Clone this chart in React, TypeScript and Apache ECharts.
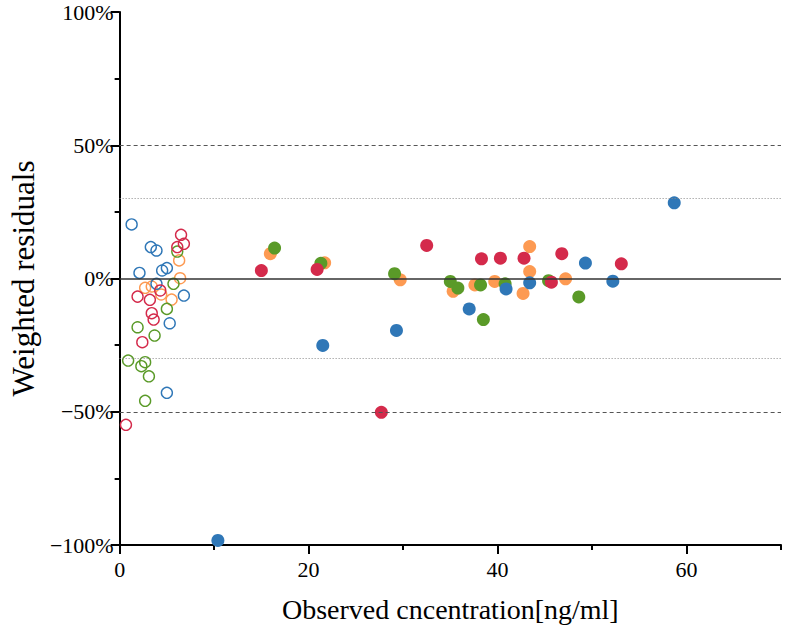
import React, { useEffect, useRef } from "react";
import * as echarts from "echarts";

// Observed concentration [ng/ml], weighted residual [%]
const blueFilled: number[][] = [
  [10.4, -98.3], [21.5, -25.1], [29.3, -19.5], [37.0, -11.4], [40.9, -3.9],
  [43.4, -1.6], [49.3, 5.8], [52.2, -1.0], [58.7, 28.4],
];
const orangeFilled: number[][] = [
  [15.95, 9.3], [21.7, 5.9], [29.7, -0.5], [35.3, -4.8], [37.6, -2.4],
  [39.7, -1.1], [42.7, -5.6], [43.4, 12.0], [43.4, 2.6], [47.2, -0.1],
];
const greenFilled: number[][] = [
  [16.4, 11.4], [21.3, 5.7], [29.1, 1.8], [35.0, -1.1], [35.8, -3.6],
  [38.2, -2.4], [38.5, -15.4], [40.8, -2.0], [45.4, -0.8], [48.6, -6.9],
];
const redFilled: number[][] = [
  [15.0, 3.0], [20.9, 3.4], [27.7, -50.2], [32.5, 12.4], [38.3, 7.4],
  [40.3, 7.6], [42.8, 7.6], [45.7, -1.4], [46.8, 9.3], [53.1, 5.5],
];
const blueHollow: number[][] = [
  [1.27, 20.3], [3.3, 11.8], [3.9, 10.5], [5.0, 3.9], [4.5, 3.0],
  [2.1, 2.1], [3.9, -2.0], [6.8, -6.4], [5.3, -16.8], [5.0, -42.9],
];
const orangeHollow: number[][] = [
  [6.3, 6.8], [6.4, 0.1], [2.7, -3.5], [3.4, -3.0], [5.5, -7.9], [4.4, -6.0],
];
const greenHollow: number[][] = [
  [6.1, 10.1], [5.7, -2.0], [5.0, -11.4], [1.9, -18.3], [3.7, -21.4],
  [0.9, -30.8], [2.7, -31.4], [2.3, -32.9], [3.1, -36.7], [2.7, -45.9],
];
const redHollow: number[][] = [
  [6.5, 16.4], [6.8, 13.0], [6.1, 11.8], [4.3, -4.5], [1.9, -6.8],
  [3.2, -8.0], [3.4, -13.0], [3.6, -15.4], [2.4, -23.9], [0.67, -54.9],
];

const xMajorTicks = [0, 20, 40, 60];
const xMinorTicks = [10, 30, 50, 70];
const dashedLevels = [50, -50];
const dottedLevels = [30, -30];

const BLUE = "#2f77b7";
const ORANGE = "#fd9a52";
const GREEN = "#5a9a28";
const RED = "#d42a4b";
const FONT = "'Liberation Serif', 'Times New Roman', serif";

export default function App() {
  const ref = useRef<HTMLDivElement>(null);
  useEffect(() => {
    if (!ref.current) return;
    const chart = echarts.init(ref.current, undefined, { renderer: "svg" });
    const filled = (name: string, data: number[][], color: string) => ({
      name,
      type: "scatter",
      data,
      symbol: "circle",
      symbolSize: 13,
      itemStyle: { color, opacity: 1 },
      silent: true,
    });
    const hollow = (name: string, data: number[][], color: string) => ({
      name,
      type: "scatter",
      data,
      symbol: "circle",
      symbolSize: 11,
      itemStyle: { color: "rgba(0,0,0,0)", borderColor: color, borderWidth: 1.4, opacity: 1 },
      silent: true,
    });
    const refLines = [
      ...dashedLevels.map((v) => ({ yAxis: v, lineStyle: { color: "#555", width: 1, type: [4, 3] } })),
      ...dottedLevels.map((v) => ({ yAxis: v, lineStyle: { color: "#888", width: 1, type: [1, 2] } })),
      { yAxis: 0, lineStyle: { color: "#333", width: 1.5, type: "solid" } },
    ];
    chart.setOption({
      animation: false,
      backgroundColor: "#fff",
      grid: { left: 118, right: 4, top: 12, bottom: 88 },
      xAxis: [
        {
          type: "value",
          min: 0,
          max: 70,
          interval: 10,
          name: "Observed cncentration[ng/ml]",
          nameLocation: "middle",
          nameGap: 50,
          nameTextStyle: { fontFamily: FONT, fontSize: 28, color: "#000" },
          axisLine: { show: true, onZero: false, lineStyle: { color: "#000", width: 2 } },
          axisTick: { show: true, customValues: xMajorTicks, length: 9, lineStyle: { color: "#000", width: 2 } },
          axisLabel: { customValues: xMajorTicks, fontFamily: FONT, fontSize: 22, color: "#000", margin: 13 },
          splitLine: { show: false },
        },
        {
          type: "value",
          min: 0,
          max: 70,
          interval: 10,
          position: "bottom",
          axisLine: { show: false, onZero: false },
          axisTick: { show: true, customValues: xMinorTicks, length: 5, lineStyle: { color: "#000", width: 2 } },
          axisLabel: { show: false },
          splitLine: { show: false },
        },
      ],
      yAxis: {
        type: "value",
        min: -100,
        max: 100,
        interval: 50,
        name: "Weighted residuals",
        nameLocation: "middle",
        nameGap: 70,
        nameTextStyle: { fontFamily: FONT, fontSize: 31, color: "#000" },
        axisLine: { show: true, onZero: false, lineStyle: { color: "#000", width: 2 } },
        axisTick: { show: true, length: 9, lineStyle: { color: "#000", width: 2 } },
        minorTick: { show: true, splitNumber: 2, length: 5, lineStyle: { color: "#000", width: 2 } },
        axisLabel: {
          fontFamily: FONT,
          fontSize: 22,
          color: "#000",
          margin: 6,
          formatter: (v: number) => (v < 0 ? "\u2212" + Math.abs(v) + "%" : v + "%"),
        },
        splitLine: { show: false },
        minorSplitLine: { show: false },
      },
      series: [
        {
          type: "line",
          data: [],
          silent: true,
          markLine: { silent: true, symbol: ["none", "none"], label: { show: false }, data: refLines },
        },
        hollow("orangeHollow", orangeHollow, ORANGE),
        hollow("greenHollow", greenHollow, GREEN),
        hollow("blueHollow", blueHollow, BLUE),
        hollow("redHollow", redHollow, RED),
        filled("orange", orangeFilled, ORANGE),
        filled("green", greenFilled, GREEN),
        filled("blue", blueFilled, BLUE),
        filled("red", redFilled, RED),
      ],
    });
    return () => chart.dispose();
  }, []);
  return <div ref={ref} style={{ width: 785, height: 633, position: "absolute", left: 0, top: 0 }} />;
}
